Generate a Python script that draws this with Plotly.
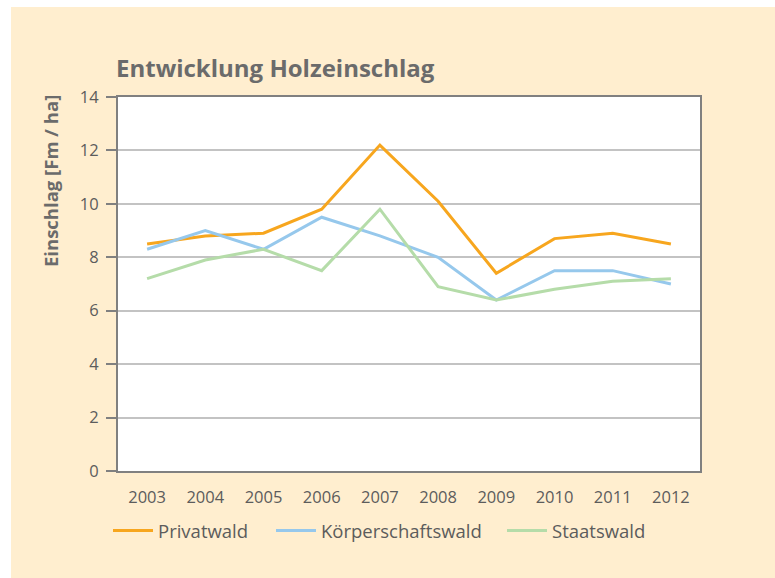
import plotly.graph_objects as go

years = ["2003", "2004", "2005", "2006", "2007", "2008", "2009", "2010", "2011", "2012"]
privatwald = [8.5, 8.8, 8.9, 9.8, 12.2, 10.1, 7.4, 8.7, 8.9, 8.5]
koerperschaftswald = [8.3, 9.0, 8.3, 9.5, 8.8, 8.0, 6.4, 7.5, 7.5, 7.0]
staatswald = [7.2, 7.9, 8.3, 7.5, 9.8, 6.9, 6.4, 6.8, 7.1, 7.2]

series = [
    ("Privatwald", privatwald, "#F7A61E"),
    ("Körperschaftswald", koerperschaftswald, "#96C8EC"),
    ("Staatswald", staatswald, "#B5DCA9"),
]

W, H = 775, 578
L, R, T, B = 118, 75, 97, 107
pw, ph = W - L - R, H - T - B

def px(xp):
    return (xp - L) / pw

def py(yp):
    return (H - B - yp) / ph

text_col = "#5c5c5c"
title_col = "#6b6b6b"
font = "Open Sans"

legend_ids = ["legend", "legend2", "legend3"]
legend_x = [108, 271, 502]

fig = go.Figure()
for (name, vals, col), lid in zip(series, legend_ids):
    fig.add_trace(go.Scatter(x=years, y=vals, name=name, mode="lines",
                             line=dict(color=col, width=3), legend=lid))

legend_layouts = {}
for lid, lx in zip(legend_ids, legend_x):
    legend_layouts[lid] = dict(orientation="h", x=px(lx), xanchor="left", y=py(531),
                               yanchor="middle", font=dict(size=18.5, color=text_col),
                               bgcolor="rgba(0,0,0,0)", itemwidth=40)

fig.update_layout(
    width=W, height=H,
    margin=dict(l=L, r=R, t=T, b=B),
    paper_bgcolor="#FFEECF",
    plot_bgcolor="white",
    font=dict(family=font, color=text_col, size=16),
    title=dict(text="<b>Entwicklung Holzeinschlag</b>", x=116 / W, xanchor="left",
               xref="container", y=1 - 69 / H, yanchor="middle", yref="container",
               font=dict(size=24, color=title_col, family=font)),
    showlegend=True,
    shapes=[
        dict(type="rect", xref="paper", yref="paper", x0=px(-5), x1=px(11), y0=py(H + 5), y1=py(-5),
             fillcolor="white", line=dict(width=0), layer="below"),
        dict(type="rect", xref="paper", yref="paper", x0=px(-5), x1=px(W + 5), y0=py(7), y1=py(-5),
             fillcolor="white", line=dict(width=0), layer="below"),
    ],
    annotations=[
        dict(text="<b>Einschlag [Fm / ha]</b>", textangle=-90, xref="paper", yref="paper",
             x=px(50), y=py(181), xanchor="center", yanchor="middle", showarrow=False,
             font=dict(size=18.5, color=title_col)),
    ],
    **legend_layouts,
)

fig.update_xaxes(type="category", range=[-0.5, len(years) - 0.5], showgrid=False,
                 showline=True, linecolor="#808080", linewidth=2,
                 mirror=True, ticks="", ticklabelstandoff=10,
                 tickfont=dict(size=16.5, color=text_col))
fig.update_yaxes(range=[0, 14], dtick=2, showgrid=True, gridcolor="#C3C3C3", gridwidth=2,
                 showline=True, linecolor="#808080", linewidth=2, mirror=True,
                 ticks="outside", ticklen=10, tickcolor="#808080", tickwidth=2,
                 ticklabelstandoff=4,
                 tickfont=dict(size=16.5, color=text_col), zeroline=False)

fig.write_html("out.html")
